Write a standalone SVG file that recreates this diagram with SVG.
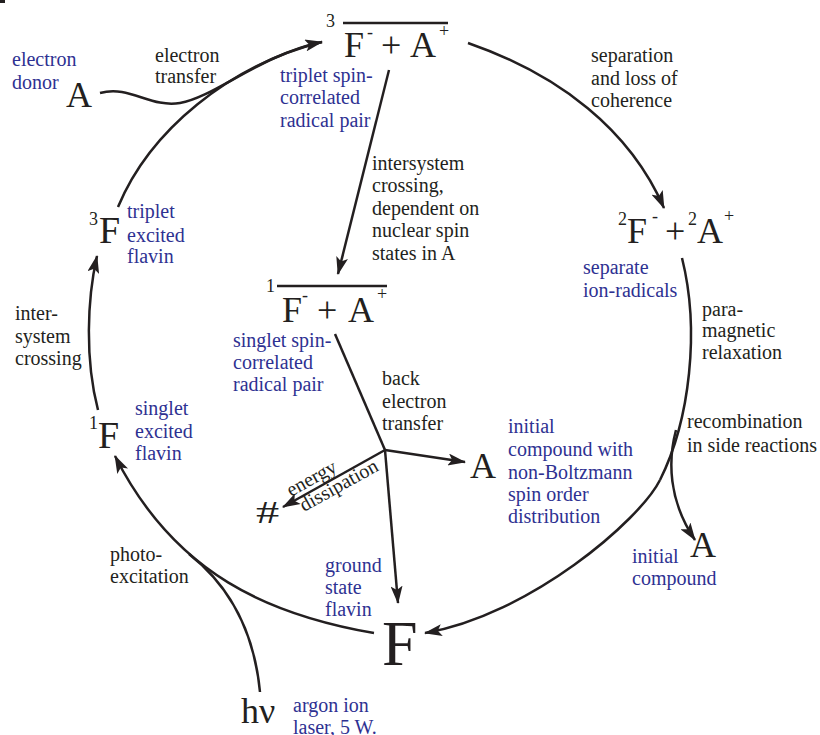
<svg xmlns="http://www.w3.org/2000/svg" width="820" height="735" viewBox="0 0 820 735" font-family="'Liberation Serif', 'Times New Roman', serif">
<style>
text, tspan{font-family:"Liberation Serif","Times New Roman",serif;}
.k{fill:#231f20;font-size:20px;}
.b{fill:#2e3192;font-size:20px;}
.big{fill:#231f20;font-size:36px;}
.sup{fill:#231f20;font-size:18px;}
.ln{fill:none;stroke:#231f20;stroke-width:2.5;}
.ar{marker-end:url(#ah);}
</style>
<defs>
<marker id="ah" viewBox="0 0 18 12" refX="17" refY="6" markerWidth="18" markerHeight="12" markerUnits="userSpaceOnUse" orient="auto">
<path d="M0,0 L18,6 L0,12 L4,6 Z" fill="#231f20"/>
</marker>
</defs>
<rect x="0" y="0" width="5" height="3" fill="#231f20"/>

<g id="connectors">
<path class="ln ar" d="M100,93 C130,85 150,108 180,103 C215,97 260,55 322,42"/>
<path class="ln" d="M118,207 C150,130 230,65 322,42"/>
<path class="ln ar" d="M468,43 C560,75 630,130 664,208"/>
<path class="ln" d="M682,258 C700,330 690,420 660,480"/>
<path class="ln ar" d="M660,480 C640,520 530,615 425,633"/>
<path class="ln ar" d="M676,430 C668,460 668,500 695,540"/>
<path class="ln ar" d="M98,410 C85,360 87,300 97,256"/>
<path class="ln ar" d="M374,633 C270,615 175,575 115,456"/>
<path class="ln" d="M260,692 C255,640 235,590 189,554"/>
<path class="ln ar" d="M389,70 L338,274"/>
<path class="ln" d="M335,334 L385,450"/>
<path class="ln ar" d="M385,450 L465,462"/>
<path class="ln ar" d="M385,450 L283,507"/>
<path class="ln ar" d="M385,450 L398,603"/>
</g>

<g id="triplet-pair">
<text class="sup" x="326" y="27">3</text>
<line x1="343" y1="23" x2="448" y2="23" stroke="#231f20" stroke-width="2.5"/>
<text class="big" x="344" y="57">F</text>
<text class="sup" x="367" y="38">-</text>
<text class="big" x="381" y="57">+</text>
<text class="big" x="410" y="57">A</text>
<text class="sup" x="439" y="37">+</text>
<text class="b"><tspan x="280" y="82">triplet spin-</tspan><tspan x="280" y="104">correlated</tspan><tspan x="280" y="127">radical pair</tspan></text>
</g>

<g id="donor">
<text class="b"><tspan x="12" y="66">electron</tspan><tspan x="12" y="89">donor</tspan></text>
<text class="big" x="66" y="107">A</text>
</g>

<g id="label-electron-transfer">
<text class="k"><tspan x="155" y="62">electron</tspan><tspan x="155" y="83">transfer</tspan></text>
</g>

<g id="label-separation">
<text class="k"><tspan x="591" y="62">separation</tspan><tspan x="591" y="85">and loss of</tspan><tspan x="591" y="107">coherence</tspan></text>
</g>

<g id="separate-radicals">
<text class="sup" x="618" y="225">2</text>
<text class="big" x="627" y="243">F</text>
<text class="sup" x="652" y="222">-</text>
<text class="big" x="665" y="243">+</text>
<text class="sup" x="688" y="225">2</text>
<text class="big" x="697" y="243">A</text>
<text class="sup" x="724" y="222">+</text>
<text class="b"><tspan x="583" y="274">separate</tspan><tspan x="583" y="297">ion-radicals</tspan></text>
</g>

<g id="label-paramagnetic">
<text class="k"><tspan x="702" y="316">para-</tspan><tspan x="702" y="337">magnetic</tspan><tspan x="702" y="359">relaxation</tspan></text>
</g>

<g id="label-recombination">
<text class="k"><tspan x="687" y="428">recombination</tspan><tspan x="687" y="452">in side reactions</tspan></text>
</g>

<g id="initial-compound">
<text class="big" x="690" y="557">A</text>
<text class="b"><tspan x="632" y="563">initial</tspan><tspan x="632" y="585">compound</tspan></text>
</g>

<g id="label-isc-pair">
<text class="k"><tspan x="372" y="170">intersystem</tspan><tspan x="372" y="192">crossing,</tspan><tspan x="372" y="215">dependent on</tspan><tspan x="372" y="237">nuclear spin</tspan><tspan x="372" y="260">states in A</tspan></text>
</g>

<g id="singlet-pair">
<text class="sup" x="266" y="292">1</text>
<line x1="277" y1="286" x2="387" y2="286" stroke="#231f20" stroke-width="2.5"/>
<text class="big" x="282" y="322">F</text>
<text class="sup" x="302" y="301">-</text>
<text class="big" x="317" y="322">+</text>
<text class="big" x="348" y="322">A</text>
<text class="sup" x="377" y="300">+</text>
<text class="b"><tspan x="233" y="347">singlet spin-</tspan><tspan x="233" y="369">correlated</tspan><tspan x="233" y="391">radical pair</tspan></text>
</g>

<g id="label-back-transfer">
<text class="k"><tspan x="382" y="385">back</tspan><tspan x="382" y="408">electron</tspan><tspan x="382" y="430">transfer</tspan></text>
</g>

<g id="polarized-compound">
<text class="big" x="470" y="478">A</text>
<text class="b"><tspan x="508" y="433">initial</tspan><tspan x="508" y="456">compound with</tspan><tspan x="508" y="479">non-Boltzmann</tspan><tspan x="508" y="501">spin order</tspan><tspan x="508" y="523">distribution</tspan></text>
</g>

<g id="heat">
<text class="k" transform="translate(256,523) scale(1.5,1)" style="font-size:31px">#</text>
<text class="k" transform="translate(291,497) rotate(-29)">energy</text>
<text class="k" transform="translate(304,512) rotate(-29)">dissipation</text>
</g>

<g id="ground-flavin">
<text class="b"><tspan x="325" y="572">ground</tspan><tspan x="325" y="594">state</tspan><tspan x="325" y="616">flavin</tspan></text>
<text class="big" x="382" y="665" style="font-size:64px">F</text>
</g>

<g id="light">
<text class="big" x="241" y="723">hν</text>
<text class="b"><tspan x="293" y="712">argon ion</tspan><tspan x="293" y="734">laser, 5 W.</tspan></text>
</g>

<g id="label-photoexcitation">
<text class="k"><tspan x="110" y="561">photo-</tspan><tspan x="110" y="583">excitation</tspan></text>
</g>

<g id="singlet-flavin">
<text class="sup" x="89" y="429">1</text>
<text class="big" x="98" y="448" style="font-size:38px">F</text>
<text class="b"><tspan x="135" y="415">singlet</tspan><tspan x="135" y="438">excited</tspan><tspan x="135" y="460">flavin</tspan></text>
</g>

<g id="label-isc">
<text class="k"><tspan x="15" y="320">inter-</tspan><tspan x="15" y="343">system</tspan><tspan x="15" y="365">crossing</tspan></text>
</g>

<g id="triplet-flavin">
<text class="sup" x="89" y="225">3</text>
<text class="big" x="99" y="243" style="font-size:38px">F</text>
<text class="b"><tspan x="127" y="218">triplet</tspan><tspan x="127" y="242">excited</tspan><tspan x="127" y="263">flavin</tspan></text>
</g>
</svg>
